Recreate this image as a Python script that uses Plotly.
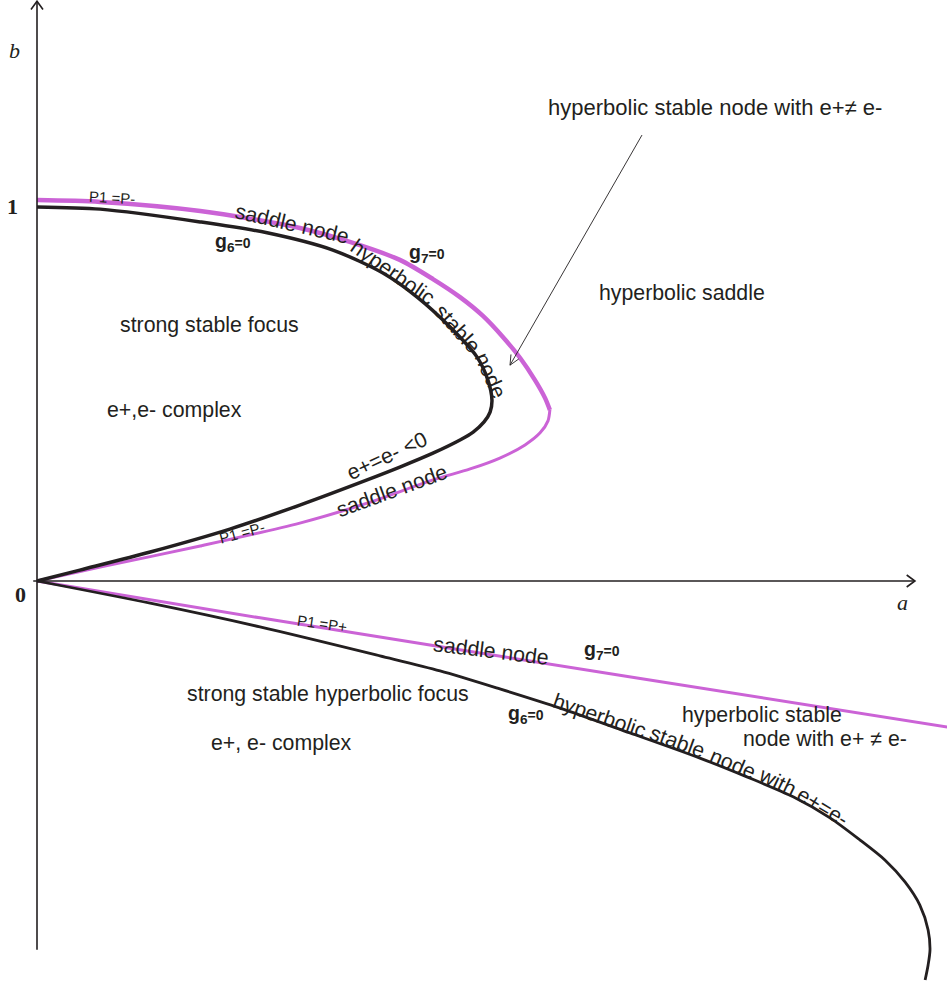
import plotly.graph_objects as go

INK = "#231f20"
MAGENTA = "#cb63d6"
SANS = "Liberation Sans, Arial, sans-serif"
SERIF = "Liberation Serif, Times New Roman, serif"

# ---- bifurcation curves in the (a, b) plane ----
# g6 = 0, upper branch: from (0, 1) round the nose back into the origin
g6_upper_a = [0, 0.168, 0.434, 0.612, 0.787, 0.920, 1.011, 1.098, 1.170, 1.199, 1.210,
              1.205, 1.189, 1.160, 1.125, 1.053, 0.965, 0.878, 0.699, 0.513, 0.301, 0.114, 0]
g6_upper_b = [0.995, 0.989, 0.955, 0.926, 0.880, 0.819, 0.755, 0.676, 0.596, 0.535, 0.481,
              0.449, 0.423, 0.396, 0.375, 0.340, 0.303, 0.269, 0.202, 0.138, 0.077, 0.029, 0]

# g7 = 0, upper branch: outer arc down to the nose, then back to the origin
g7_upper_outer_a = [0, 0.168, 0.434, 0.699, 0.832, 0.965, 1.053, 1.125, 1.186, 1.239,
                    1.285, 1.324, 1.351, 1.364]
g7_upper_outer_b = [1.013, 1.008, 0.984, 0.939, 0.902, 0.854, 0.803, 0.755, 0.705, 0.649,
                    0.593, 0.535, 0.487, 0.455]
g7_upper_inner_a = [1.364, 1.359, 1.338, 1.298, 1.231, 1.152, 1.053, 0.878, 0.699, 0.434, 0.168, 0]
g7_upper_inner_b = [0.455, 0.426, 0.394, 0.362, 0.327, 0.298, 0.269, 0.207, 0.154, 0.093, 0.037, 0]

# lower branches (b < 0)
g7_lower_a = [0, 0.593, 1.596, 2.455]
g7_lower_b = [0, -0.098, -0.258, -0.394]
g6_lower_a = [0, 0.301, 0.593, 0.912, 1.072, 1.231, 1.391, 1.577, 1.763, 1.888, 2.011,
              2.109, 2.189, 2.255, 2.309, 2.348, 2.370, 2.375, 2.370, 2.362]
g6_lower_b = [0, -0.059, -0.122, -0.199, -0.239, -0.287, -0.338, -0.404, -0.471, -0.521,
              -0.574, -0.630, -0.689, -0.742, -0.801, -0.862, -0.928, -0.981, -1.021, -1.061]

# axis extents
A_MIN, A_MAX = -0.0984, 2.4202
B_MIN, B_MAX = -1.0771, 1.5452
A_AXIS_END = 2.335
B_AXIS_TOP, B_AXIS_BOTTOM = 1.542, -0.981

fig = go.Figure()


def curve(xs, ys, color, width):
    fig.add_trace(go.Scatter(x=xs, y=ys, mode="lines",
                             line=dict(color=color, width=width, shape="spline", smoothing=0.8),
                             hoverinfo="skip"))


curve(g7_upper_outer_a, g7_upper_outer_b, MAGENTA, 4.5)
curve(g7_upper_inner_a, g7_upper_inner_b, MAGENTA, 3)
curve(g7_lower_a, g7_lower_b, MAGENTA, 3)
curve(g6_upper_a, g6_upper_b, INK, 3.5)
curve(g6_lower_a, g6_lower_b, INK, 2.8)


def arrow(x0, y0, x1, y1, width, head=0.022, spread=0.016):
    """Straight line from (x0, y0) to (x1, y1) ending in an open chevron."""
    dx, dy = x1 - x0, y1 - y0
    n = (dx * dx + dy * dy) ** 0.5
    ux, uy = dx / n, dy / n
    px, py = -uy, ux
    bx, by = x1 - ux * head, y1 - uy * head
    xs = [x0, x1, None, bx + px * spread, x1, bx - px * spread]
    ys = [y0, y1, None, by + py * spread, y1, by - py * spread]
    fig.add_trace(go.Scatter(x=xs, y=ys, mode="lines",
                             line=dict(color=INK, width=width), hoverinfo="skip"))


# coordinate axes
arrow(0, B_AXIS_BOTTOM, 0, B_AXIS_TOP, 1.6)
arrow(-0.01, 0, A_AXIS_END, 0, 1.6)
# pointer to the thin region between g6 = 0 and g7 = 0
arrow(1.609, 1.186, 1.258, 0.574, 0.9, head=0.026, spread=0.012)

annotations = []
BASE = 21.3


def label(text, a, b, size=BASE, angle=0, family=SANS, color=INK):
    annotations.append(dict(x=a, y=b, xref="x", yref="y", text=text, showarrow=False,
                            textangle=angle, xanchor="center", yanchor="middle",
                            font=dict(family=family, size=size, color=color)))


G6 = "<b>g<sub>6</sub><span style='font-size:14px'>=0</span></b>"
G7 = "<b>g<sub>7</sub><span style='font-size:14px'>=0</span></b>"

# axis labels
label("<i>b</i>", -0.059, 1.412, size=22, family=SERIF)
label("<i>a</i>", 2.301, -0.056, size=22, family=SERIF)
label("<b>1</b>", -0.064, 0.997, size=22, family=SERIF)
label("<b>0</b>", -0.043, -0.035, size=22, family=SERIF)

# upper half-plane
label("P1 =P-", 0.199, 1.021, size=15, angle=3)
label("saddle node", 0.678, 0.949, angle=13)
label(G6, 0.521, 0.899, size=19.5)
label(G7, 1.037, 0.870, size=19.5)
label("hyperbolic", 0.945, 0.821, angle=35)
label("stable", 1.119, 0.671, angle=48)
label("node", 1.205, 0.548, angle=66)
label("strong stable focus", 0.460, 0.681)
label("e+,e- complex", 0.367, 0.455)
label("hyperbolic saddle", 1.715, 0.766)
label("hyperbolic stable node with e+≠ e-", 1.803, 1.258, size=22)
label("e+=e- &lt;0", 0.931, 0.333, angle=-25)
label("saddle node", 0.944, 0.239, angle=-20)
label("P1 =P-", 0.545, 0.128, size=15, angle=-15)

# lower half-plane
label("P1 =P+", 0.758, -0.114, size=15, angle=8)
label("saddle node", 1.207, -0.186, angle=7)
label(G7, 1.503, -0.186, size=19.5)
label(G6, 1.301, -0.354, size=19.5)
label("strong stable hyperbolic focus", 0.774, -0.301)
label("e+, e- complex", 0.649, -0.431)
label("hyperbolic stable", 1.928, -0.356)
label("node with e+ ≠ e-", 2.096, -0.420)
label("hyperbolic", 1.497, -0.359, angle=19)
label("stable", 1.704, -0.428, angle=20)
label("node", 1.850, -0.487, angle=23)
label("with", 1.970, -0.534, angle=26)
label("e+=e-", 2.090, -0.600, angle=31)

fig.update_layout(
    width=947, height=986, autosize=False,
    margin=dict(l=0, r=0, t=0, b=0),
    paper_bgcolor="white", plot_bgcolor="white",
    showlegend=False,
    xaxis=dict(range=[A_MIN, A_MAX], visible=False, fixedrange=True),
    yaxis=dict(range=[B_MIN, B_MAX], visible=False, fixedrange=True),
    annotations=annotations,
)

fig.write_html("out.html")
